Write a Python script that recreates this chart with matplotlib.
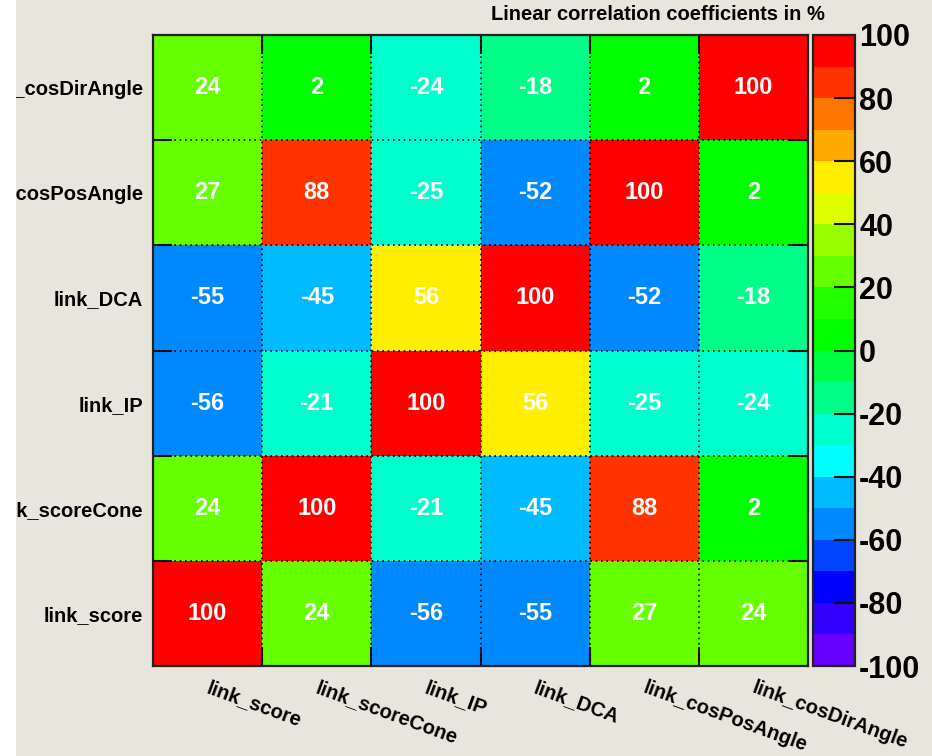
import numpy as np
import matplotlib
matplotlib.use("Agg")
import matplotlib.pyplot as plt
from matplotlib.colors import ListedColormap, BoundaryNorm
from matplotlib.patches import Rectangle

variables = ["link_score", "link_scoreCone", "link_IP", "link_DCA",
             "link_cosPosAngle", "link_cosDirAngle"]

# rows: y variable (bottom -> top), columns: x variable (left -> right)
corr = [
    [100, 24, -56, -55, 27, 24],    # link_score
    [24, 100, -21, -45, 88, 2],     # link_scoreCone
    [-56, -21, 100, 56, -25, -24],  # link_IP
    [-55, -45, 56, 100, -52, -18],  # link_DCA
    [27, 88, -25, -52, 100, 2],     # link_cosPosAngle
    [24, 2, -24, -18, 2, 100],      # link_cosDirAngle
]

palette = ["#6600ff", "#3300ff", "#0000ff", "#0044ff", "#0088ff",
           "#00bbff", "#00ffff", "#00ffcc", "#00ff88", "#00ff44",
           "#00ff00", "#22ff00", "#66ff00", "#99ff00", "#ddff00",
           "#ffee00", "#ffaa00", "#ff7700", "#ff3300", "#ff0000"]
levels = np.arange(-100, 101, 10)
cbar_ticks = np.arange(-100, 101, 20)
title = "Linear correlation coefficients in %"

FONT = "Liberation Sans"
bg = "#e8e6dc"
fig = plt.figure(figsize=(9.32, 7.56), dpi=100, facecolor=bg)
fig.patches.append(Rectangle((0, 0), 16 / 932, 1, transform=fig.transFigure,
                             facecolor="white", edgecolor="none", zorder=10))

W, H = 932, 756
ax = fig.add_axes([153 / W, 90 / H, 655 / W, 631 / H])
cax = fig.add_axes([813 / W, 90 / H, 42 / W, 631 / H])

cmap = ListedColormap(palette)
norm = BoundaryNorm(levels, cmap.N)
data = np.array(corr, dtype=float)
n = len(variables)
edges = np.arange(n + 1)
mesh = ax.pcolormesh(edges, edges, data, cmap=cmap, norm=norm)

for i in range(n):
    for j in range(n):
        ax.text(j + 0.5, i + 0.5, f"{int(data[i, j])}", ha="center", va="center",
                color="white", fontsize=17, fontweight="bold", family=FONT)

# dotted grid at cell boundaries
for k in range(1, n):
    ax.axvline(k, color="black", linestyle=(0, (1, 2.2)), linewidth=1.2)
    ax.axhline(k, color="black", linestyle=(0, (1, 2.2)), linewidth=1.2)

ax.set_xlim(0, n)
ax.set_ylim(0, n)
centers = np.arange(n) + 0.5
ax.set_xticks(centers)
ax.set_yticks(centers)
ax.set_xticklabels([])
ax.set_yticklabels(variables, fontsize=14.5, fontweight="bold", family=FONT)
ax.tick_params(axis="both", which="major", length=0, pad=7)
ax.set_xticks(np.arange(1, n), minor=True)
ax.set_yticks(np.arange(1, n), minor=True)
ax.tick_params(axis="both", which="minor", direction="in", length=14,
               width=1.5, color="#111111", top=True, right=True,
               bottom=True, left=True)
for s in ax.spines.values():
    s.set_linewidth(1.6)
    s.set_color("#222222")

for j, name in enumerate(variables):
    ax.annotate(name, xy=(j + 0.5, 0), xycoords="data",
                xytext=(2, -9), textcoords="offset points",
                ha="left", va="top", rotation=-20, rotation_mode="anchor",
                fontsize=14.5, fontweight="bold", family=FONT)

cb = fig.colorbar(mesh, cax=cax, boundaries=levels, ticks=cbar_ticks)
cb.outline.set_linewidth(1.6)
cb.outline.set_edgecolor("#222222")
cax.minorticks_off()
cax.tick_params(axis="y", which="both", direction="in", length=15, width=1.5,
                color="#111111", pad=3)
cax.tick_params(axis="y", which="minor", length=0)
cax.set_yticks(cbar_ticks)
cax.set_yticklabels([f"{t}" for t in cbar_ticks], fontsize=22,
                    fontweight="bold", family=FONT)

fig.text(825 / W, 1 - 15 / H, title, ha="right", va="center",
         fontsize=14.5, fontweight="bold", family=FONT)

fig.savefig("out.png", dpi=100, facecolor=bg)
